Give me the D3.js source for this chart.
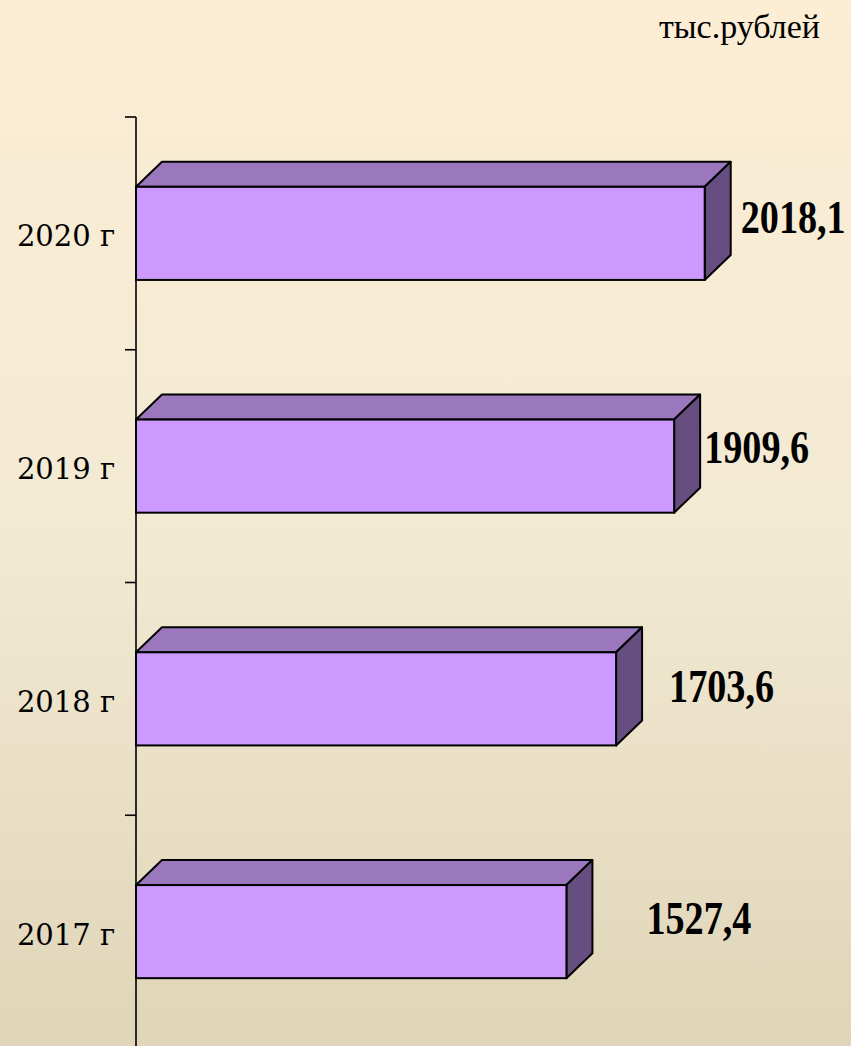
<!DOCTYPE html>
<html>
<head>
<meta charset="utf-8">
<script src="https://cdn.jsdelivr.net/npm/d3@7"></script>
<style>
  html, body { margin: 0; padding: 0; }
  body { width: 851px; height: 1046px; overflow: hidden; }
</style>
</head>
<body>
<svg id="chart" width="851" height="1046"></svg>
<script>
// ---- data ----
const categories = ["2020 г", "2019 г", "2018 г", "2017 г"];
const values = [2018.1, 1909.6, 1703.6, 1527.4];
const valueLabels = ["2018,1", "1909,6", "1703,6", "1527,4"];
const unitLabel = "тыс.рублей";

// manual label nudges (as placed in the original slide)
const labelNudgeX = [10, 4, 27, 54];
const labelNudgeY = [0, -3, 3, 2];

const W = 851, H = 1046;
const svg = d3.select("#chart");

// background gradient
const defs = svg.append("defs");
const grad = defs.append("linearGradient").attr("id", "bg")
  .attr("x1", 0).attr("y1", 0).attr("x2", 0).attr("y2", 1);
grad.append("stop").attr("offset", "0%").attr("stop-color", "#FCEDD4");
grad.append("stop").attr("offset", "50%").attr("stop-color", "#F3EAD4");
grad.append("stop").attr("offset", "100%").attr("stop-color", "#DFD5B8");
svg.append("rect").attr("width", W).attr("height", H).attr("fill", "url(#bg)");

// scales
const x = d3.scaleLinear().domain([0, 2500]).range([136, 136 + 704.5]);
const y = d3.scaleBand().domain(categories).range([117, 1048])
  .paddingInner(0.6).paddingOuter(0.3);

const depthX = 26, depthY = 25;

// axis line and ticks at band boundaries
const axisG = svg.append("g");
axisG.append("line")
  .attr("x1", x(0)).attr("x2", x(0))
  .attr("y1", y.range()[0]).attr("y2", y.range()[1])
  .attr("stroke", "#000").attr("stroke-width", 1.6);
const boundaries = categories.map(c => y(c) - y.step() * y.paddingInner() / 2)
  .concat([y.range()[1]]);
axisG.selectAll("line.tick").data(boundaries).enter().append("line")
  .attr("class", "tick")
  .attr("x1", x(0) - 11).attr("x2", x(0))
  .attr("y1", d => d).attr("y2", d => d)
  .attr("stroke", "#000").attr("stroke-width", 1.6);

// category labels
svg.append("g").selectAll("text").data(categories).enter().append("text")
  .attr("x", 66)
  .attr("y", d => y(d) + y.bandwidth() / 2 + 13)
  .attr("text-anchor", "middle")
  .attr("font-family", "'DejaVu Serif', serif")
  .attr("font-size", 29)
  .attr("fill", "#000")
  .text(d => d);

// 3D bars
const bars = svg.append("g").selectAll("g").data(categories).enter().append("g");
bars.each(function(c, i) {
  const g = d3.select(this);
  const x0 = x(0), x1 = x(values[i]);
  const y0 = y(c), y1 = y(c) + y.bandwidth();
  // top face
  g.append("path")
    .attr("d", `M${x0},${y0} L${x0 + depthX},${y0 - depthY} L${x1 + depthX},${y0 - depthY} L${x1},${y0} Z`)
    .attr("fill", "#9B77BD").attr("stroke", "#000").attr("stroke-width", 2)
    .attr("stroke-linejoin", "round");
  // side face
  g.append("path")
    .attr("d", `M${x1},${y0} L${x1 + depthX},${y0 - depthY} L${x1 + depthX},${y1 - depthY} L${x1},${y1} Z`)
    .attr("fill", "#664F80").attr("stroke", "#000").attr("stroke-width", 2)
    .attr("stroke-linejoin", "round");
  // front face
  g.append("rect")
    .attr("x", x0).attr("y", y0)
    .attr("width", x1 - x0).attr("height", y1 - y0)
    .attr("fill", "#CC99FF").attr("stroke", "#000").attr("stroke-width", 2);
});

// value labels
svg.append("g").selectAll("text").data(categories).enter().append("text")
  .attr("transform", (c, i) => {
    const tx = x(values[i]) + depthX + labelNudgeX[i];
    const ty = y(c) + y.bandwidth() / 2 + labelNudgeY[i];
    return `translate(${tx},${ty}) scale(0.83,1)`;
  })
  .attr("font-family", "'Liberation Serif', 'Times New Roman', serif")
  .attr("font-weight", "bold")
  .attr("font-size", 46)
  .attr("fill", "#000")
  .text((c, i) => valueLabels[i]);

// unit label
svg.append("text")
  .attr("x", 820).attr("y", 38)
  .attr("text-anchor", "end")
  .attr("font-family", "'Liberation Serif', 'Times New Roman', serif")
  .attr("font-size", 34)
  .attr("fill", "#000")
  .text(unitLabel);
</script>
</body>
</html>
